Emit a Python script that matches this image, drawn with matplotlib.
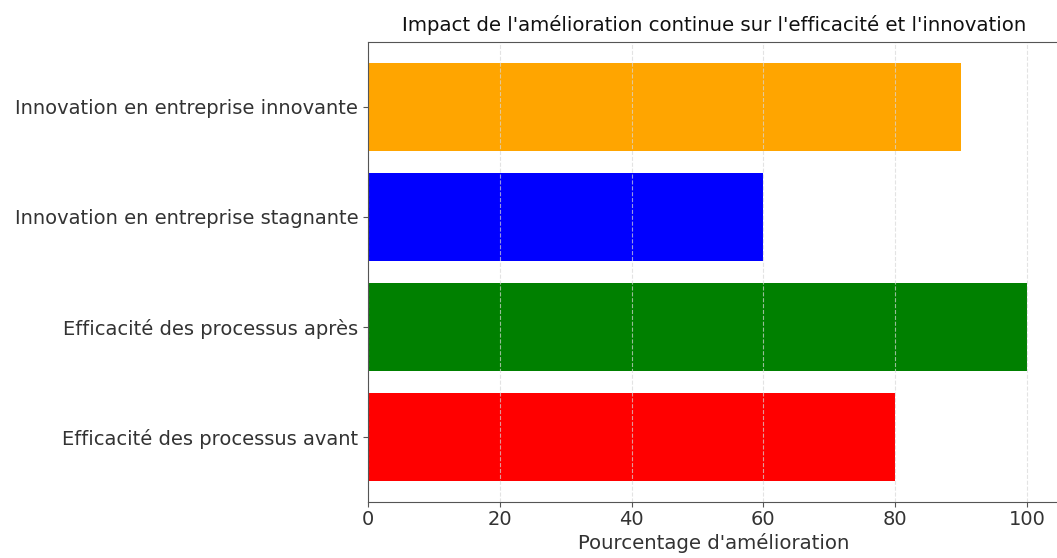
import matplotlib
matplotlib.use("Agg")
import matplotlib.pyplot as plt

categories = ["Efficacité des processus avant", "Efficacité des processus après",
              "Innovation en entreprise stagnante", "Innovation en entreprise innovante"]
values = [80, 100, 60, 90]
colors = ["red", "green", "blue", "orange"]

plt.rcParams['font.family'] = ['DejaVu Sans']

fig = plt.figure(figsize=(10.57, 5.58), dpi=100)
ax = fig.add_axes([368/1057, 56/558, 692/1057, 460/558])
ax.barh(categories, values, color=colors)
ax.set_title("Impact de l'amélioration continue sur l'efficacité et l'innovation",
             fontsize=14.2, color="#111111", pad=8)
ax.set_xlabel("Pourcentage d'amélioration", fontsize=14.2, color="#333333", labelpad=3)
ax.tick_params(axis='both', labelsize=14, labelcolor="#333333", colors="#555555")
ax.tick_params(axis='x', pad=2)
ax.grid(axis='x', linestyle='--', color='#d8d8d8', linewidth=0.8, alpha=0.7)
for s in ax.spines.values():
    s.set_color("#555555")
fig.savefig("out.png", dpi=100)
